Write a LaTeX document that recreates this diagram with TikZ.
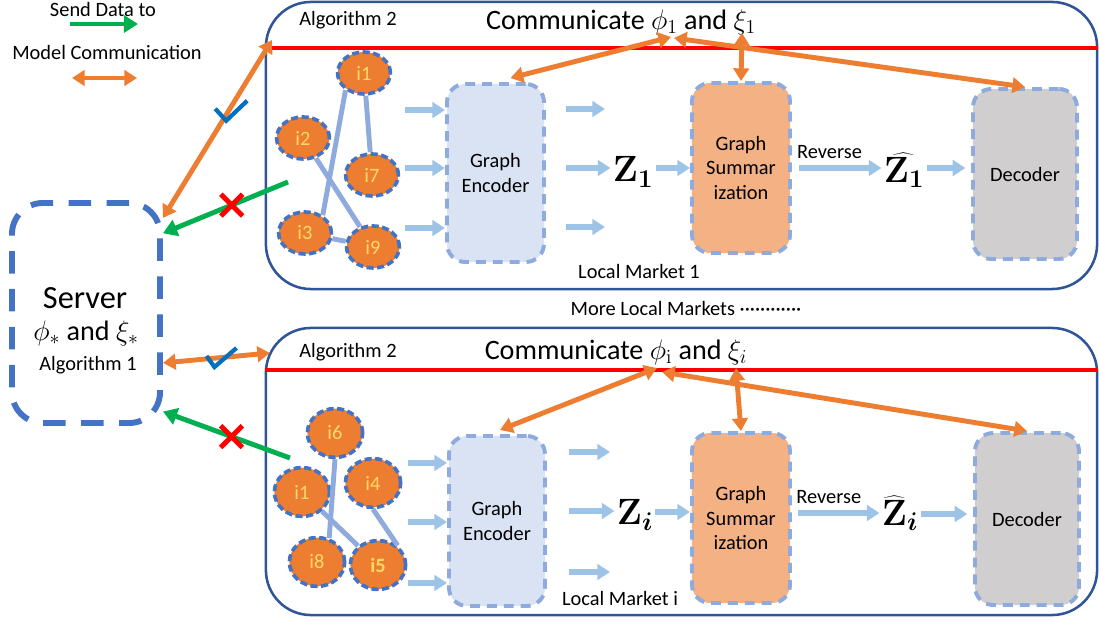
\documentclass[tikz,border=0pt]{standalone}
\usepackage{fix-cm}
\usepackage[no-math]{fontspec}
\setmainfont{Carlito}
\usepackage{bm}
\usetikzlibrary{arrows.meta,positioning,calc}
\usetikzlibrary{shapes.geometric,shapes.misc}
\definecolor{boxblue}{HTML}{2F5597}
\definecolor{dashblue}{HTML}{4472C4}
\definecolor{paleblue}{HTML}{8FAADC}
\definecolor{flowblue}{HTML}{9DC3E6}
\definecolor{commorange}{HTML}{ED7D31}
\definecolor{sendgreen}{HTML}{00B050}
\definecolor{encfill}{HTML}{DAE3F3}
\definecolor{sumfill}{HTML}{F4B183}
\definecolor{decfill}{HTML}{D0CECE}
\definecolor{itemtext}{HTML}{FFD966}
\definecolor{tickblue}{HTML}{0070C0}
\tikzset{every picture/.style={/utils/exec={\fontsize{14.5}{17.5}\selectfont}}}

\begin{document}
\begin{tikzpicture}[x=0.025cm, y=-0.025cm]
  \tikzstyle{market} = [rectangle, draw=boxblue, line width=1.8pt, rounded corners=32pt, inner sep=0pt]
  \tikzstyle{item} = [ellipse, fill=commorange, draw=dashblue, line width=2.6pt, dash pattern=on 5pt off 2.5pt, text=itemtext, minimum width=1.32cm, minimum height=1.05cm, inner sep=0pt]
  \tikzstyle{bigitem} = [item, minimum width=1.38cm, minimum height=1.22cm]
  \tikzstyle{link} = [paleblue, line width=3.5pt]
  \tikzstyle{block} = [rectangle, rounded corners=13pt, draw=paleblue, line width=2.8pt, dash pattern=on 7pt off 5pt, align=center, inner sep=2pt]
  \tikzstyle{flow} = [-{Triangle[length=9pt,width=11pt]}, flowblue, line width=4pt]
  \tikzstyle{comm} = [{Triangle[length=9pt,width=11pt]}-{Triangle[length=9pt,width=11pt]}, commorange, line width=3.5pt]
  \tikzstyle{send} = [-{Triangle[length=10pt,width=12pt]}, sendgreen, line width=3.5pt]
  \tikzstyle{cross} = [cross out, draw=red, line width=3.5pt, minimum size=0.42cm, inner sep=0pt]
  \tikzstyle{check} = [tickblue, line width=3pt]
  \tikzstyle{zvar} = [font=\fontsize{26}{30}\selectfont, inner sep=1.5pt]
  \tikzstyle{big} = [font=\fontsize{20}{24}\selectfont]

  \useasboundingbox (0,0) rectangle (1099,622);

  % legend
  \node (sendlbl) at (103,10) {Send Data to};
  \coordinate (sendL) at (70,24);
  \coordinate (sendR) at (138,24);
  \draw [send] (sendL) -- (sendR);
  \node (commlbl) at (107,53) {Model Communication};
  \coordinate (commL) at (72,78);
  \coordinate (commR) at (137,78);
  \draw [comm] (commL) -- (commR);

  % server
  \node (server) [rectangle, draw=dashblue, line width=4.2pt, dash pattern=on 16pt off 11pt, rounded corners=22pt, minimum width=3.7cm, minimum height=5.5cm] at (86,313) {};
  \node (srvname) [font=\fontsize{23}{26}\selectfont] at (85,298) {Server};
  \node (srvparam) [big] at (86,333) {$\phi_*$ and $\xi_*$};
  \node (srvalgo) at (88,365) {Algorithm 1};

  % local markets
  \node (market1) [market, minimum width=20.775cm, minimum height=7.175cm] at (681.5,145.5) {};
  \node (market2) [market, minimum width=20.775cm, minimum height=7.175cm] at (681.5,471.5) {};
  \draw [red, line width=2.2pt] (market1.west |- 0,48) -- (market1.east |- 0,48);
  \draw [red, line width=2.2pt] (market2.west |- 0,370) -- (market2.east |- 0,370);
  \node (alg1) at (348,20) {Algorithm 2};
  \node (comm1) [big] at (621,22) {Communicate $\phi_1$ and $\xi_1$};
  \node (lm1) at (639,271) {Local Market 1};
  \node (more) at (686,308) {More Local Markets ············};
  \node (alg2) at (348,352) {Algorithm 2};
  \node (comm2) [big] at (616,352) {Communicate $\phi_{\mathrm{i}}$ and $\xi_i$};
  \node (lm2) at (620,598) {Local Market i};

  % item graph, market 1
  \node (t1) [item] at (364,73) {i1};
  \node (t2) [item] at (303,138) {i2};
  \node (t7) [item] at (372,175) {i7};
  \node (t3) [item] at (305,233) {i3};
  \node (t9) [item] at (373,247) {i9};
  \draw [link] (t1.223) -- (t3.45);
  \draw [link] (t1) -- (t7);
  \draw [link] (t2) -- (t9);
  \draw [link] (t3) -- (t9);

  % item graph, market i
  \node (b6) [bigitem] at (335,433) {i6};
  \node (b1) [bigitem] at (302,492) {i1};
  \node (b4) [bigitem] at (373,483) {i4};
  \node (b8) [bigitem] at (317,562) {i8};
  \node (b5) [bigitem] at (378,565) {\textbf{i5}};
  \draw [link] (b6.south) -- (b8.63);
  \draw [link] (b1) -- (b5);
  \draw [link] (b4.south) -- (b5.45);

  % pipeline, market 1
  \node (enc1) [block, fill=encfill, minimum width=2.425cm, minimum height=4.45cm] at (495.5,173) {Graph\\Encoder};
  \node (sum1) [block, fill=sumfill, minimum width=2.45cm, minimum height=4.25cm] at (741,168) {Graph\\Summar\\ization};
  \node (dec1) [block, fill=decfill, minimum width=2.6cm, minimum height=4.25cm] at (1025,174) {Decoder};
  \node (z1) [zvar] at (633,172) {$\mathbf{Z}_{\mathbf{1}}$};
  \node (zh1) [zvar] at (904,170) {$\widehat{\mathbf{Z}_{\mathbf{1}}}$};
  \foreach \y in {110,168,228}
    \draw [flow] ($(enc1.west |- 0,\y)+(-40,0)$) -- (enc1.west |- 0,\y);
  \foreach \y in {109,227}
    \draw [flow, shorten <=14pt] (enc1.east |- 0,\y) -- ++(59,0);
  \draw [flow, shorten <=14pt] (enc1.east |- 0,168) -- (z1.west |- 0,168);
  \draw [flow] (z1.east |- 0,168) -- (sum1.west |- 0,168);
  \draw [flow, shorten <=5pt] (sum1.east |- 0,168) -- node [above, pos=0.42, text=black] {Reverse} (zh1.west |- 0,168);
  \draw [flow, shorten >=4pt] (zh1.east |- 0,168) -- (dec1.west |- 0,168);

  % pipeline, market i
  \node (enc2) [block, fill=encfill, minimum width=2.4cm, minimum height=4.25cm] at (497,521) {Graph\\Encoder};
  \node (sum2) [block, fill=sumfill, minimum width=2.45cm, minimum height=4.25cm] at (741,518) {Graph\\Summar\\ization};
  \node (dec2) [block, fill=decfill, minimum width=2.6cm, minimum height=4.3cm] at (1027,519) {Decoder};
  \node (z2) [zvar] at (635,515) {$\mathbf{Z}_{\bm{i}}$};
  \node (zh2) [zvar] at (900,513) {$\widehat{\mathbf{Z}}_{\bm{i}}$};
  \foreach \y in {463,522,583}
    \draw [flow] ($(enc2.west |- 0,\y)+(-39,0)$) -- (enc2.west |- 0,\y);
  \foreach \y in {452,572}
    \draw [flow, shorten <=16pt] (enc2.east |- 0,\y) -- ++(63,0);
  \draw [flow, shorten <=16pt] (enc2.east |- 0,511) -- (z2.west |- 0,511);
  \draw [flow] (z2.east |- 0,512) -- (sum2.west |- 0,512);
  \draw [flow, shorten <=4pt] (sum2.east |- 0,513) -- node [above, pos=0.42, text=black] {Reverse} (zh2.west |- 0,513);
  \draw [flow, shorten >=4pt] (zh2.east |- 0,514) -- (dec2.west |- 0,514);

  % model communication inside the markets
  \coordinate (hub1) at (671,37);
  \coordinate (hub1r) at (674,38);
  \coordinate (up1) at (742,33);
  \draw [comm] (hub1) -- ([shift={(15,-4)}]enc1.north);
  \draw [comm] (hub1r) -- (dec1.north);
  \draw [comm] (up1) -- (sum1.north);
  \coordinate (hub2) at (657,368);
  \coordinate (hub2r) at (662,372);
  \coordinate (up2) at (736,368);
  \draw [comm] (hub2) -- ([shift={(3,-4)}]enc2.north);
  \draw [comm] (hub2r) -- (dec2.north);
  \draw [comm] (up2) -- (sum2.north);

  % server links
  \coordinate (srvlink1) at (272,40);
  \draw [comm] (srvlink1) -- coordinate [pos=0.42] (chk1) (server.51);
  \draw [check] ([shift={(-11,-6)}]chk1) -- ([shift={(0,6)}]chk1) -- ([shift={(21,-14)}]chk1);
  \coordinate (g1) at (288,182);
  \draw [send] (g1) -- node [cross, pos=0.45] {} (server.46.5);

  \coordinate (srvlink2) at (270,353);
  \draw [comm] (server.-33.5) -- coordinate [pos=0.5] (chk2) (srvlink2);
  \draw [check] ([shift={(-10,-2)}]chk2) -- ([shift={(-2,9)}]chk2) -- ([shift={(20,-10)}]chk2);
  \coordinate (g2) at (290,458);
  \draw [send] (g2) -- node [cross, pos=0.46] {} (server.-52);
\end{tikzpicture}
\end{document}
